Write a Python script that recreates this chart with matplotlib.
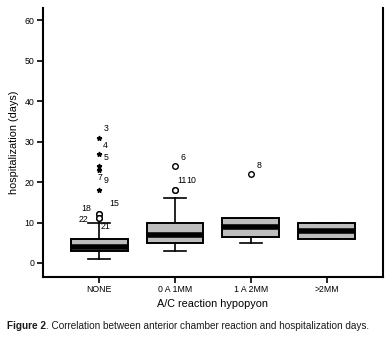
import matplotlib
matplotlib.use('Agg')

import matplotlib.pyplot as plt

plt.rcParams['font.family'] = ['Liberation Sans', 'DejaVu Sans']

# hospitalization days per A/C reaction group (box summaries)
groups = ['NONE', '0 A 1MM', '1 A 2MM', '>2MM']
q1 = [3, 5, 6.5, 6]
med = [4, 7, 9, 8]
q3 = [6, 10, 11, 10]
whis_lo = [1, 3, 5, 6]
whis_hi = [10, 16, 11, 10]

# outliers (circles) and extreme values (stars), with case labels
circle_grp = [1, 1, 1, 1, 2, 2, 2, 3]
circle_val = [12, 12, 11, 11, 24, 18, 18, 22]
circle_lab = ['18', '15', '22', '21', '6', '11', '10', '8']
star_grp = [1, 1, 1, 1, 1]
star_val = [31, 27, 24, 23, 18]
star_lab = ['3', '4', '5', '7', '9']

# label offsets in points, per outlier label
circle_off = [(-13, 1), (7, 5), (-15, -4), (1, -9), (4, 3), (2, 4), (8, 4), (4, 3)]
star_off = [(3, 3), (3, 3), (3, 3), (-1, -9), (3, 4)]

fig = plt.figure(figsize=(3.9, 3.38), dpi=100)
ax = fig.add_axes([0.110, 0.180, 0.872, 0.796])

stats = []
for i, g in enumerate(groups):
    stats.append(dict(label=g, q1=q1[i], med=med[i], q3=q3[i],
                      whislo=whis_lo[i], whishi=whis_hi[i], fliers=[]))

ax.bxp(stats, positions=range(1, len(groups) + 1), widths=0.75,
       patch_artist=True, showfliers=False,
       boxprops=dict(facecolor='#bdbdbd', edgecolor='black', linewidth=1.4),
       medianprops=dict(color='black', linewidth=4, solid_capstyle='butt'),
       whiskerprops=dict(color='black', linewidth=1.2),
       capprops=dict(color='black', linewidth=1.2), capwidths=0.3)

ax.plot(circle_grp, circle_val, 'o', markersize=4, markerfacecolor='white',
        markeredgecolor='black', markeredgewidth=1.0, zorder=4)
ax.plot(star_grp, star_val, '*', markersize=3.5, color='black', zorder=4)

for x, y, t, off in zip(circle_grp, circle_val, circle_lab, circle_off):
    ax.annotate(t, (x, y), xytext=off, textcoords='offset points',
                fontsize=6.3, ha='left', va='bottom')
for x, y, t, off in zip(star_grp, star_val, star_lab, star_off):
    ax.annotate(t, (x, y), xytext=off, textcoords='offset points',
                fontsize=6.3, ha='left', va='bottom')

ax.set_xlim(0.26, 4.74)
ax.set_ylim(-3.5, 63)
ax.set_yticks(range(0, 61, 10))
ax.set_xticks(range(1, len(groups) + 1))
ax.set_xticklabels(groups)
ax.tick_params(axis='both', direction='out', length=4, width=1.2,
               labelsize=6.3, pad=2)
ax.spines['top'].set_visible(False)
for s in ['left', 'right', 'bottom']:
    ax.spines[s].set_linewidth(1.5)

ax.set_xlabel('A/C reaction hypopyon', fontsize=7.8, labelpad=3)
ax.set_ylabel('hospitalization (days)', fontsize=7.8, labelpad=4)

# caption: bold figure number followed by regular text
bold = fig.text(0.018, 0.036, 'Figure 2', fontsize=7.2, fontweight='bold',
                va='center', ha='left', color='#1a1a1a')
r = fig.canvas.get_renderer()
bb = bold.get_window_extent(renderer=r)
x_end = bb.x1 / fig.bbox.width
fig.text(x_end, 0.036, '. Correlation between anterior chamber reaction and hospitalization days.',
         fontsize=7.2, va='center', ha='left', color='#1a1a1a')

fig.savefig('out.png', dpi=100)
